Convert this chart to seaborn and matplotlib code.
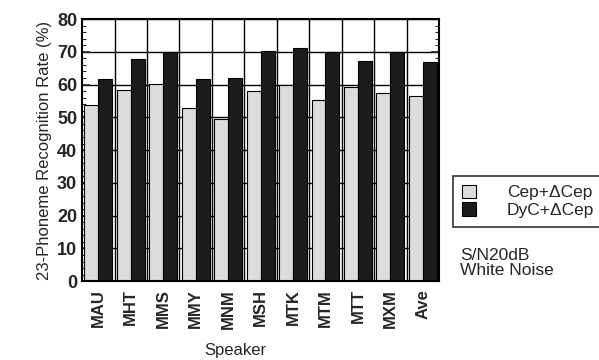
import numpy as np
import pandas as pd
import matplotlib.pyplot as plt
import seaborn as sns

speakers = ['MAU', 'MHT', 'MMS', 'MMY', 'MNM', 'MSH', 'MTK', 'MTM', 'MTT', 'MXM', 'Ave']
cep = [53.8, 58.5, 60.3, 52.8, 49.6, 58.0, 59.8, 55.4, 59.3, 57.4, 56.4]
dyc = [61.6, 67.7, 69.8, 61.6, 62.0, 70.2, 71.1, 69.8, 67.2, 69.8, 67.0]
series = ['Cep+\u0394Cep', 'DyC+\u0394Cep']

df = pd.DataFrame({
    'Speaker': speakers * 2,
    'rate': cep + dyc,
    'feat': [series[0]] * len(speakers) + [series[1]] * len(speakers),
})

sns.set_style('ticks')
plt.rcParams['font.family'] = ['Liberation Sans', 'DejaVu Sans']

fig = plt.figure(figsize=(5.99, 3.6), dpi=100)
ax = fig.add_axes([0.137, 0.219, 0.596, 0.728])

sns.barplot(data=df, x='Speaker', y='rate', hue='feat', ax=ax,
            palette=['#dcdcdc', '#1c1c1c'], width=0.86, gap=0,
            edgecolor='black', linewidth=0.8, saturation=1, legend=True)

ax.set_ylim(0, 80)
ax.set_xlim(-0.5, len(speakers) - 0.5)
ax.set_yticks(np.arange(0, 81, 10))
ax.set_yticks(np.arange(0, 81, 2), minor=True)
ax.set_xticks(np.arange(len(speakers)))
ax.set_xticklabels(speakers, rotation=90, fontsize=12, fontweight='bold')
ax.set_xticks(np.arange(len(speakers)) + 0.5, minor=True)
ax.tick_params(axis='y', which='major', direction='in', length=6, width=1.2,
               labelsize=13, right=True)
ax.tick_params(axis='y', which='minor', direction='in', length=3, width=0.8, right=True)
ax.tick_params(axis='x', which='both', length=0, pad=6)
for t in ax.get_yticklabels():
    t.set_fontweight('bold')

ax.set_axisbelow(True)
ax.grid(axis='y', which='major', color='black', linewidth=1.0)
ax.grid(axis='x', which='minor', color='black', linewidth=1.0)
for s in ax.spines.values():
    s.set_linewidth(1.5)
    s.set_color('black')

ax.set_ylabel('23-Phoneme Recognition Rate (%)', fontsize=12)
ax.set_xlabel('Speaker', fontsize=12)
ax.xaxis.set_label_coords(0.43, -0.235)

leg = ax.legend(loc='upper left', bbox_to_anchor=(1.015, 0.435), frameon=True,
                fontsize=12.5, handlelength=0.8, handleheight=0.8,
                handletextpad=1.8, borderpad=0.5, labelspacing=0.12,
                fancybox=False, title=None)
leg.get_frame().set_edgecolor('black')
leg.get_frame().set_linewidth(1.2)

fig.text(0.768, 0.27, 'S/N20dB\nWhite Noise', fontsize=12.5, va='center',
         linespacing=1.05)

fig.savefig('out.png', dpi=100)
